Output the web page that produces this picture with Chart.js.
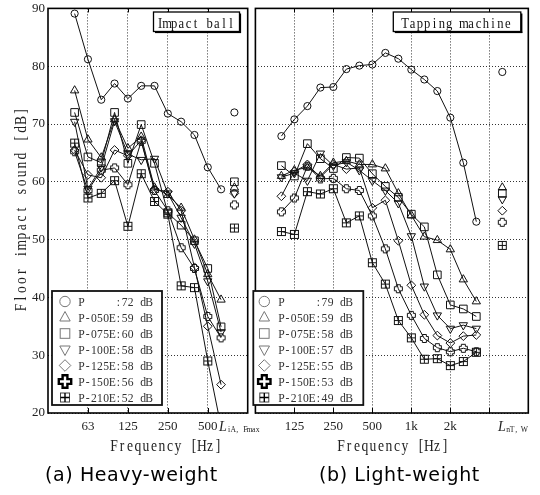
<!DOCTYPE html>
<html>
<head>
<meta charset="utf-8">
<script src="https://cdn.jsdelivr.net/npm/chart.js@4.4.1/dist/chart.umd.min.js"></script>
<style>
html,body{margin:0;padding:0;background:#fff;}
#wrap{position:relative;width:540px;height:495px;overflow:hidden;background:#fff;}
canvas{position:absolute;top:0;}
#cL{left:0;}
#cR{left:249px;}
.cap{position:absolute;top:464.6px;font-family:"DejaVu Sans",sans-serif;font-size:19px;line-height:19px;letter-spacing:0.6px;color:#000;white-space:nowrap;}
#capA{left:45px;}
#capB{left:319px;}
</style>
</head>
<body>
<div id="wrap">
<canvas id="cL" width="262" height="470"></canvas>
<canvas id="cR" width="291" height="470"></canvas>
<div class="cap" id="capA">(a) Heavy-weight</div>
<div class="cap" id="capB">(b) Light-weight</div>
</div>
<script>
// ---------------- DATA ----------------
const seriesNames = ['P', 'P-050E', 'P-075E', 'P-100E', 'P-125E', 'P-150E', 'P-210E'];

// (a) Heavy-weight impact (impact ball), 1/3-octave bands
const axisBandsL = ['31.5','40','50','63','80','100','125','160','200','250','315','400','500','630','800','1000'];
const bandsL = ['50','63','80','100','125','160','200','250','315','400','500','630'];
const gridBandsL = ['63','125','250','500'];
const tickTextL = ['63','125','250','500'];
const ratingSlotL = '800';
const heavyP    = [89.1, 81.2, 74.2, 77.0, 74.4, 76.6, 76.6, 71.8, 70.4, 68.1, 62.5, 58.7];
const heavy050E = [75.8, 67.3, 64.2, 70.8, 65.8, 67.8, 59.0, 57.7, 55.5, 50.0, 44.0, 39.6];
const heavy075E = [72.0, 64.3, 63.3, 72.0, 63.2, 69.9, 63.2, 54.6, 52.5, 49.8, 45.0, 34.9];
const heavy100E = [70.4, 58.8, 62.5, 70.5, 64.8, 63.8, 64.0, 58.0, 53.8, 49.3, 42.8, 34.0];
const heavy125E = [65.5, 61.2, 60.7, 65.5, 64.5, 67.2, 58.7, 58.3, 55.0, 45.2, 35.0, 24.9];
const heavy150E = [65.2, 58.5, 62.0, 62.4, 59.5, 67.0, 58.5, 55.0, 48.6, 45.0, 36.7, 33.0];
const heavy210E = [66.7, 57.2, 58.0, 60.2, 52.3, 61.4, 56.6, 54.4, 42.0, 41.7, 29.0, 17.6];
const ratingL   = [72, 59, 60, 58, 58, 56, 52];   // L_iA,Fmax [dB]

// (b) Light-weight impact (tapping machine), 1/3-octave bands
const axisBandsR = ['63','80','100','125','160','200','250','315','400','500','630','800','1k','1.25k','1.6k','2k','2.5k','3.15k','4k','5k','6.3k','8k'];
const bandsR = ['100','125','160','200','250','315','400','500','630','800','1k','1.25k','1.6k','2k','2.5k','3.15k'];
const gridBandsR = ['125','250','500','1k','2k','4k'];
const tickTextR = ['125','250','500','1k','2k',''];
const ratingSlotR = '5k';
const lightP    = [67.9, 70.8, 73.1, 76.3, 76.4, 79.5, 80.1, 80.3, 82.3, 81.3, 79.4, 77.7, 75.7, 71.1, 63.3, 53.1];
const light050E = [61.0, 62.0, 62.5, 61.0, 63.3, 63.6, 63.0, 63.0, 62.3, 58.0, 54.2, 50.5, 49.9, 48.3, 43.1, 39.3];
const light075E = [62.8, 61.0, 66.6, 64.0, 62.3, 64.2, 64.1, 61.4, 59.2, 57.3, 54.4, 52.2, 43.9, 38.7, 38.0, 36.7];
const light100E = [60.8, 61.5, 60.2, 64.9, 62.8, 63.4, 62.0, 60.2, 58.5, 56.3, 50.6, 41.9, 36.9, 34.6, 35.2, 34.6];
const light125E = [57.5, 61.8, 63.0, 60.8, 63.0, 62.2, 62.4, 55.5, 56.8, 49.8, 42.1, 37.0, 33.4, 32.1, 33.3, 33.5];
const light150E = [54.8, 57.2, 62.7, 60.5, 60.6, 58.8, 58.5, 54.1, 48.4, 41.5, 36.9, 32.9, 31.3, 30.6, 31.2, 30.6];
const light210E = [51.4, 50.9, 58.3, 57.9, 58.8, 52.9, 54.1, 46.0, 42.3, 36.0, 33.0, 29.3, 29.4, 28.2, 28.9, 30.5];
const ratingR   = [79, 59, 58, 57, 55, 53, 49];   // L_nT,w [dB]

const yMin = 20, yMax = 90, yStep = 10;

// ---------------- STYLE HELPERS ----------------
const SERIF = '"Liberation Serif","DejaVu Serif",serif';

function makeCrossImg() {
  const c = document.createElement('canvas'); c.width = 11; c.height = 11;
  const g = c.getContext('2d');
  const m = 5.5, a = 2, b = 4;
  const p = [[m-a,m-b],[m+a,m-b],[m+a,m-a],[m+b,m-a],[m+b,m+a],[m+a,m+a],[m+a,m+b],[m-a,m+b],[m-a,m+a],[m-b,m+a],[m-b,m-a],[m-a,m-a]];
  g.beginPath(); g.moveTo(p[0][0], p[0][1]);
  for (let i = 1; i < p.length; i++) g.lineTo(p[i][0], p[i][1]);
  g.closePath(); g.strokeStyle = '#111'; g.lineWidth = 1; g.stroke();
  return c;
}
function makeSqPlusImg() {
  const c = document.createElement('canvas'); c.width = 11; c.height = 11;
  const g = c.getContext('2d');
  g.strokeStyle = '#111'; g.lineWidth = 1;
  g.strokeRect(1.5, 1.5, 8, 8);
  g.beginPath(); g.moveTo(5.5, 1.5); g.lineTo(5.5, 9.5); g.moveTo(1.5, 5.5); g.lineTo(9.5, 5.5); g.stroke();
  return c;
}
const crossImg = makeCrossImg();
const sqPlusImg = makeSqPlusImg();

const markerDefs = [
  {style: 'circle', r: 3.6, rot: 0, key: 'circle'},
  {style: 'triangle', r: 4.8, rot: 0, key: 'tri'},
  {style: 'rect', r: 5.4, rot: 0, key: 'rect'},
  {style: 'triangle', r: 4.8, rot: 180, key: 'triDown'},
  {style: 'rectRot', r: 4.4, rot: 0, key: 'diamond'},
  {style: crossImg, r: 4, rot: 0, key: 'cross'},
  {style: sqPlusImg, r: 4, rot: 0, key: 'sqplus'}
];

function buildDatasets(axisBands, bands, seriesVals, ratingSlot, ratings) {
  const ds = [];
  seriesVals.forEach((vals, s) => {
    const m = markerDefs[s];
    const common = {
      borderColor: '#111', borderWidth: 1,
      pointStyle: m.style, pointRadius: m.r, pointHoverRadius: m.r, pointRotation: m.rot,
      pointBorderColor: '#111', pointBackgroundColor: 'rgba(0,0,0,0)', pointBorderWidth: 1,
      tension: 0
    };
    ds.push(Object.assign({}, common, {
      label: seriesNames[s],
      data: bands.map((b, i) => ({x: axisBands.indexOf(b), y: vals[i]}))
    }));
    ds.push(Object.assign({}, common, {
      label: seriesNames[s] + ' rating', showLine: false,
      data: [{x: axisBands.indexOf(ratingSlot), y: ratings[s]}]
    }));
  });
  return ds;
}

function drawMono(ctx, text, x, y, size, adv, sx, color, align) {
  ctx.save();
  ctx.font = size + 'px ' + SERIF;
  ctx.fillStyle = color;
  ctx.textBaseline = 'alphabetic';
  ctx.textAlign = 'center';
  const total = adv * text.length;
  const x0 = align === 'center' ? x - total / 2 : x;
  for (let i = 0; i < text.length; i++) {
    const ch = text[i];
    if (ch === ' ') continue;
    ctx.save();
    ctx.translate(x0 + adv * (i + 0.5), y);
    ctx.scale(sx, 1);
    ctx.fillText(ch, 0, 0);
    ctx.restore();
  }
  ctx.restore();
}

function legendMarker(ctx, key, x, y) {
  ctx.save();
  ctx.strokeStyle = '#777'; ctx.lineWidth = 1;
  ctx.beginPath();
  if (key === 'circle') { ctx.arc(x, y, 5.2, 0, Math.PI * 2); ctx.stroke(); }
  else if (key === 'tri') { const r = 6; ctx.moveTo(x, y - r); ctx.lineTo(x + r * 0.866, y + r * 0.5 + 0.5); ctx.lineTo(x - r * 0.866, y + r * 0.5 + 0.5); ctx.closePath(); ctx.stroke(); }
  else if (key === 'triDown') { const r = 6; ctx.moveTo(x, y + r); ctx.lineTo(x + r * 0.866, y - r * 0.5 - 0.5); ctx.lineTo(x - r * 0.866, y - r * 0.5 - 0.5); ctx.closePath(); ctx.stroke(); }
  else if (key === 'rect') { ctx.strokeRect(x - 4.8, y - 4.8, 9.6, 9.6); }
  else if (key === 'diamond') { const r = 5.8; ctx.moveTo(x, y - r); ctx.lineTo(x + r, y); ctx.lineTo(x, y + r); ctx.lineTo(x - r, y); ctx.closePath(); ctx.stroke(); }
  else if (key === 'cross') {
    ctx.strokeStyle = '#000'; ctx.lineWidth = 2.4;
    const a = 2.4, b = 6.2;
    const p = [[-a,-b],[a,-b],[a,-a],[b,-a],[b,a],[a,a],[a,b],[-a,b],[-a,a],[-b,a],[-b,-a],[-a,-a]];
    ctx.moveTo(x + p[0][0], y + p[0][1]);
    for (let i = 1; i < p.length; i++) ctx.lineTo(x + p[i][0], y + p[i][1]);
    ctx.closePath(); ctx.stroke();
  }
  else if (key === 'sqplus') {
    ctx.strokeStyle = '#444';
    ctx.strokeRect(x - 4.5, y - 4.5, 9, 9);
    ctx.strokeStyle = '#000'; ctx.lineWidth = 1.4;
    ctx.beginPath(); ctx.moveTo(x, y - 4.5); ctx.lineTo(x, y + 4.5); ctx.moveTo(x - 4.5, y); ctx.lineTo(x + 4.5, y); ctx.stroke();
  }
  ctx.restore();
}

function panelPlugin(p) {
  return {
    id: 'panelDecor',
    afterDraw(chart) {
      const ctx = chart.ctx, a = chart.chartArea, xs = chart.scales.x;
      ctx.save();
      // inner tick marks
      ctx.strokeStyle = '#000'; ctx.lineWidth = 1;
      p.gridBands.forEach(b => {
        const px = Math.round(xs.getPixelForValue(p.axisBands.indexOf(b))) + 0.5;
        ctx.beginPath();
        ctx.moveTo(px, a.bottom); ctx.lineTo(px, a.bottom - 5);
        ctx.moveTo(px, a.top); ctx.lineTo(px, a.top + 4);
        ctx.stroke();
      });
      // frame
      ctx.lineWidth = 1.6; ctx.strokeStyle = '#000';
      ctx.strokeRect(a.left, a.top, a.right - a.left, a.bottom - a.top);
      // title box
      const t = p.titleBox;
      ctx.fillStyle = '#fff'; ctx.fillRect(t.x, t.y, t.w, t.h);
      ctx.lineWidth = 1.3; ctx.strokeStyle = '#000'; ctx.strokeRect(t.x, t.y, t.w, t.h);
      ctx.fillStyle = '#000';
      ctx.fillRect(t.x + t.w, t.y + 1.5, 1.6, t.h);
      ctx.fillRect(t.x + 1.5, t.y + t.h, t.w, 1.6);
      drawMono(ctx, p.title, t.tx, t.y + 16.2, 14, t.adv, 0.9, '#111', 'left');
      // legend box
      const L = p.legend;
      ctx.fillStyle = '#fff'; ctx.fillRect(L.x, L.y, L.w, L.h);
      ctx.lineWidth = 1.8; ctx.strokeStyle = '#111'; ctx.strokeRect(L.x, L.y, L.w, L.h);
      seriesNames.forEach((n, s) => {
        const base = L.y + 15 + 16 * s;
        legendMarker(ctx, markerDefs[s].key, L.x + L.mx, base - 4.5);
        const txt = n.padEnd(6, ' ') + ':' + p.ratings[s] + ' dB';
        drawMono(ctx, txt, L.x + L.tx, base, 13.5, 6.15, 0.86, '#333', 'left');
      });
      // rating label (L with subscript)
      const rl = p.ratingLabel;
      ctx.font = 'italic 14px ' + SERIF; ctx.fillStyle = '#222'; ctx.textAlign = 'left'; ctx.textBaseline = 'alphabetic';
      ctx.fillText('L', rl.x, 430.5);
      drawMono(ctx, p.ratingSub, rl.x + 8, 431.5, 8.5, 4.1, 0.9, '#222', 'left');
      // x title
      drawMono(ctx, 'Frequency [Hz]', p.xTitleX, 450.5, 16, 8.0, 0.85, '#222', 'center');
      // y title
      if (p.yTitle) {
        ctx.save();
        ctx.translate(26, 209.5);
        ctx.rotate(-Math.PI / 2);
        drawMono(ctx, p.yTitle, 0, 0, 16, 8.9, 0.85, '#222', 'center');
        ctx.restore();
      }
      ctx.restore();
    }
  };
}

function makeChart(canvasId, o) {
  const H = 470;
  return new Chart(document.getElementById(canvasId), {
    type: 'line',
    data: {datasets: buildDatasets(o.axisBands, o.bands, o.series, o.ratingSlot, o.ratings)},
    options: {
      responsive: false, animation: false,
      layout: {padding: {left: 0, top: 8.4, right: o.padRight, bottom: 0}},
      plugins: {legend: {display: false}, tooltip: {enabled: false}},
      events: [],
      scales: {
        x: {
          type: 'linear', min: 0, max: o.axisBands.length - 1,
          grid: {color: '#333', lineWidth: 1, drawTicks: false},
          border: {display: false, dash: [1, 2]},
          afterBuildTicks(scale) {
            scale.ticks = o.gridBands.map(b => ({value: o.axisBands.indexOf(b)}));
          },
          ticks: {
            autoSkip: false, maxRotation: 0, minRotation: 0, padding: 5.5,
            color: '#222', font: {family: SERIF, size: 13},
            callback(value) {
              const i = o.gridBands.findIndex(b => o.axisBands.indexOf(b) === value);
              return i >= 0 ? o.tickText[i] : '';
            }
          },
          afterFit(scale) {
            scale.height = H - 413;
            scale.paddingLeft = 0; scale.paddingRight = 0;
          }
        },
        y: {
          type: 'linear', min: yMin, max: yMax,
          grid: {color: '#333', lineWidth: 1, drawTicks: false},
          border: {display: false, dash: [1, 2]},
          ticks: {
            display: o.showY, stepSize: yStep, padding: 3,
            color: '#222', font: {family: SERIF, size: 13}
          },
          afterFit(scale) {
            scale.width = o.yWidth;
            scale.paddingTop = 0; scale.paddingBottom = 0;
          }
        }
      }
    },
    plugins: [panelPlugin(o.decor)]
  });
}

makeChart('cL', {
  axisBands: axisBandsL, bands: bandsL, ratingSlot: ratingSlotL, ratings: ratingL,
  series: [heavyP, heavy050E, heavy075E, heavy100E, heavy125E, heavy150E, heavy210E],
  gridBands: gridBandsL, tickText: tickTextL,
  padRight: 262 - 247.7, yWidth: 48, showY: true,
  decor: {
    axisBands: axisBandsL, gridBands: gridBandsL, ratings: ratingL,
    title: 'Impact ball', titleBox: {x: 153.5, y: 12, w: 86, h: 19.5, tx: 156.5, adv: 7.1},
    legend: {x: 52, y: 291, w: 110, h: 114, mx: 13, tx: 26.5},
    ratingLabel: {x: 219}, ratingSub: 'iA, Fmax',
    xTitleX: 166, yTitle: 'Floor impact sound [dB]'
  }
});

makeChart('cR', {
  axisBands: axisBandsR, bands: bandsR, ratingSlot: ratingSlotR, ratings: ratingR,
  series: [lightP, light050E, light075E, light100E, light125E, light150E, light210E],
  gridBands: gridBandsR, tickText: tickTextR,
  padRight: 291 - 279.3, yWidth: 2, showY: false,
  decor: {
    axisBands: axisBandsR, gridBands: gridBandsR, ratings: ratingR,
    title: 'Tapping machine', titleBox: {x: 144.3, y: 12, w: 127.5, h: 19.5, tx: 152.5, adv: 7.33},
    legend: {x: 4.3, y: 291, w: 110, h: 114, mx: 11, tx: 25},
    ratingLabel: {x: 249}, ratingSub: 'nT, W',
    xTitleX: 144, yTitle: null
  }
});
</script>
</body>
</html>
